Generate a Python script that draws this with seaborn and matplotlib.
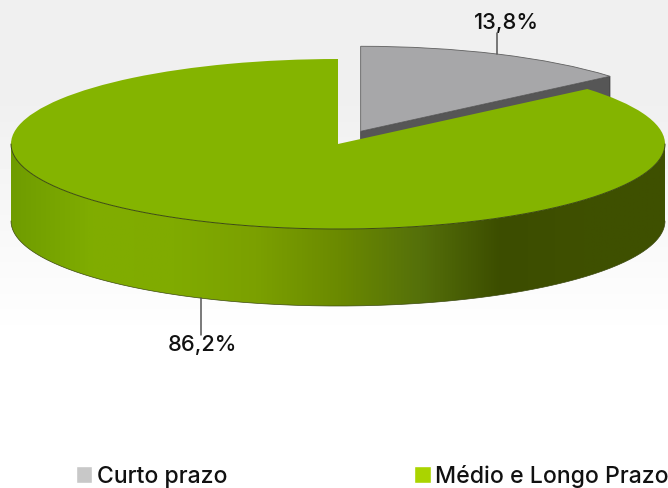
import numpy as np
import matplotlib.pyplot as plt
from matplotlib.patches import Patch, Polygon
import seaborn as sns

# Dados
categorias = ['Curto prazo', 'Médio e Longo Prazo']
valores = [13.8, 86.2]
rotulos = ['13,8%', '86,2%']

sns.set_theme(style='white')
plt.rcParams['font.family'] = ['Inter', 'DejaVu Sans']

# Geometria em pixels da imagem
W, H = 668, 488
CX, CY, RX, RY = 338, 144, 327, 85
DEPTH = 77


def px(x):
    return (x - CX) / RX


def py(y):
    return (CY - y) / RY


fig = plt.figure(figsize=(W / 100, H / 100), dpi=100)
ax = fig.add_axes([0, 0, 1, 1])
d = DEPTH / RY

# Topo da pizza, achatado depois com aspect auto
wedges, _ = ax.pie(
    valores,
    colors=['#a7a7a9', '#84b400'],
    startangle=90,
    counterclock=False,
    explode=[0.165, 0],
    radius=1,
    wedgeprops={'linewidth': 0})
cinza, verde = wedges
cinza.set_zorder(3)
cinza.set_edgecolor('#5f5f5f')
cinza.set_linewidth(0.6)
verde.set_zorder(5)
ax.set_aspect('auto')
ax.axis('off')

# Fundo
fundo = np.interp(np.arange(H), [0, 100, 340, H], [0.94, 0.94, 1, 1]).reshape(-1, 1)
ax.imshow(fundo, extent=(px(0), px(W), py(H), py(0)), cmap='gray', vmin=0, vmax=1,
          aspect='auto', zorder=0)

# Face interna escura da fatia cinza
cc = np.array(cinza.center)
t = np.deg2rad(cinza.theta1)
ponta = cc + np.array([np.cos(t), np.sin(t)])
ax.add_patch(Polygon([cc, ponta, ponta - [0, d], cc - [0, d]], closed=True,
                     facecolor='#565656', edgecolor='#333333', linewidth=0.5, zorder=2))

# Lateral da fatia verde com gradiente horizontal
ang = np.deg2rad(np.linspace(180, 360, 300))
x_arco, y_arco = np.cos(ang), np.sin(ang)
lateral = Polygon(np.r_[np.c_[x_arco, y_arco], np.c_[x_arco[::-1], y_arco[::-1] - d]],
                  closed=True, transform=ax.transData)
cores_lateral = ['#6f9c00', '#80ad00', '#80ab00', '#7ba000', '#6b8a00',
                 '#55700a', '#3c4d00', '#3f5000', '#3e5000']
cmap_lateral = sns.blend_palette(cores_lateral, n_colors=1024, as_cmap=True)
grad = ax.imshow(np.linspace(0, 1, 1024).reshape(1, -1), extent=(-1, 1, -1 - d, 0),
                 cmap=cmap_lateral, aspect='auto', zorder=4, interpolation='bilinear')
grad.set_clip_path(lateral)
ax.plot(x_arco, y_arco, color='#3c4a10', linewidth=0.7, zorder=6)
ax.plot(x_arco, y_arco - d, color='#3c4a10', linewidth=0.5, zorder=6)

# Rótulos e linhas de chamada
ax.plot([px(497), px(497)], [py(33), py(54)], color='#555555', linewidth=1.1, zorder=6)
ax.plot([px(201), px(201)], [py(298), py(335)], color='#555555', linewidth=1.1, zorder=6)
ax.text(px(506), py(23), rotulos[0], ha='center', va='center', fontsize=15.7,
        fontweight='medium', color='#111111')
ax.text(px(202.5), py(345), rotulos[1], ha='center', va='center', fontsize=15.7,
        fontweight='medium', color='#111111')

# Legenda
handles = [Patch(facecolor='#c8c8c8', label=categorias[0]),
           Patch(facecolor='#aad400', label=categorias[1])]
fig.legend(handles=handles, ncol=2, frameon=False,
           loc='lower left', bbox_to_anchor=(75.5 / W, 0.5 / H), borderaxespad=0, borderpad=0,
           handlelength=0.72, handleheight=0.72, handletextpad=0.2, columnspacing=8.1,
           labelcolor='#111111', prop={'size': 16.6, 'weight': 'medium'})

ax.set_xlim(px(0), px(W))
ax.set_ylim(py(H), py(0))
fig.savefig('out.png', dpi=100)
